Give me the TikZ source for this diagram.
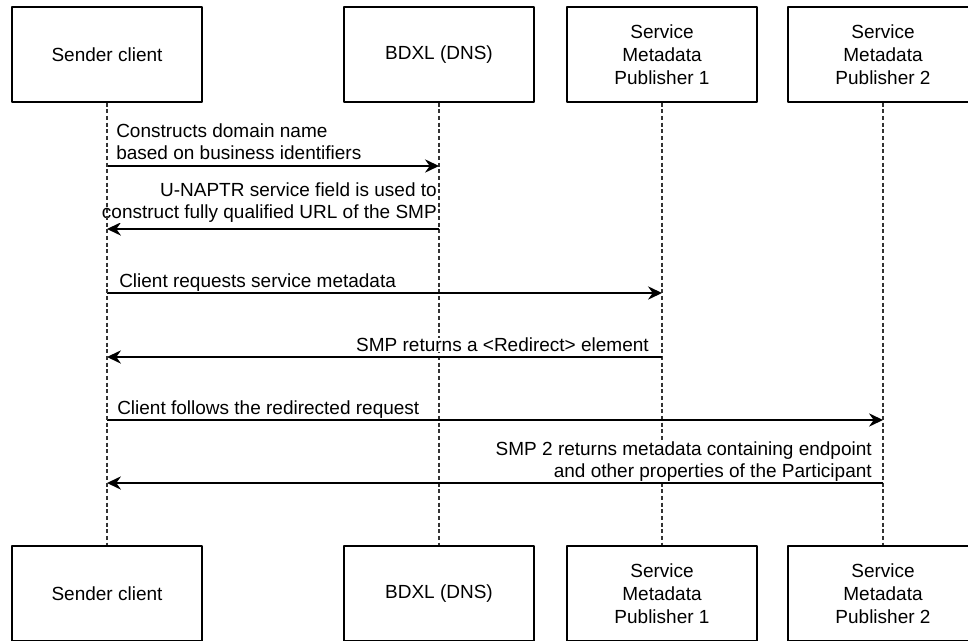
\documentclass[tikz,border=0pt]{standalone}
\usepackage{fontspec}
\setmainfont{Liberation Sans}
\usetikzlibrary{arrows.meta}
\begin{document}
\begin{tikzpicture}[x=0.75pt,y=-0.75pt,line join=round,
	actor/.style={draw,line width=1pt,minimum width=142.5pt,minimum height=71.25pt,inner sep=0pt,align=center,font=\fontsize{14.25}{17.25}\selectfont},
	lifeline/.style={line width=0.8pt,black!80,dash pattern=on 3pt off 2pt},
	msg/.style={line width=1.1pt,-{Stealth[length=10.5pt,width=10pt,inset=3.5pt]}},
	lbl/.style={inner sep=0pt,fill=white,font=\fontsize{14.25}{16.5}\selectfont}]
		\useasboundingbox (0,0) rectangle (968,641);
		\clip (0,0) rectangle (968,641);
		\node[actor] (sndT) at (107,54.5) {Sender client};
		\node[actor] (bdxlT) at (439,54.5) {BDXL (DNS)};
		\node[actor] (smpAT) at (662,54.5) {Service\\Metadata\\Publisher 1};
		\node[actor] (smpBT) at (883,54.5) {Service\\Metadata\\Publisher 2};
		\node[actor] (sndB) at (107,593.5) {Sender client};
		\node[actor] (bdxlB) at (439,593.5) {BDXL (DNS)};
		\node[actor] (smpAB) at (662,593.5) {Service\\Metadata\\Publisher 1};
		\node[actor] (smpBB) at (883,593.5) {Service\\Metadata\\Publisher 2};
		\draw[lifeline] (bdxlT.south)--(bdxlB.north);
		\draw[lifeline] (smpAT.south)--(smpAB.north);
		\draw[lifeline] (smpBT.south)--(smpBB.north);
		\draw[msg] (sndT |- 0,166)--(bdxlT |- 0,166);
		\node[lbl,anchor=base west,align=left] (m1) at (116,160) {Constructs domain name\\based on business identifiers};
		\draw[msg] (bdxlT |- 0,229)--(sndT |- 0,229);
		\node[lbl,anchor=base east,align=right] (m2) at (437,219) {U-NAPTR service field is used to\\construct fully qualified URL of the SMP};
		\draw[msg] (sndT |- 0,293)--(smpAT |- 0,293);
		\node[lbl,anchor=base west] (m3) at (119,288) {Client requests service metadata};
		\draw[msg] (smpAT |- 0,357)--(sndT |- 0,357);
		\node[lbl,anchor=base east] (m4) at (649,352) {SMP returns a <Redirect> element};
		\draw[msg] (sndT |- 0,420)--(smpBT |- 0,420);
		\node[lbl,anchor=base west] (m5) at (117,415) {Client follows the redirected request};
		\draw[msg] (smpBT |- 0,483)--(sndT |- 0,483);
		\node[lbl,anchor=base east,align=right] (m6) at (872,478) {SMP 2 returns metadata containing endpoint\\and other properties of the Participant};
		\draw[lifeline] (sndT.south)--(sndB.north);
		\end{tikzpicture}
\end{document}
